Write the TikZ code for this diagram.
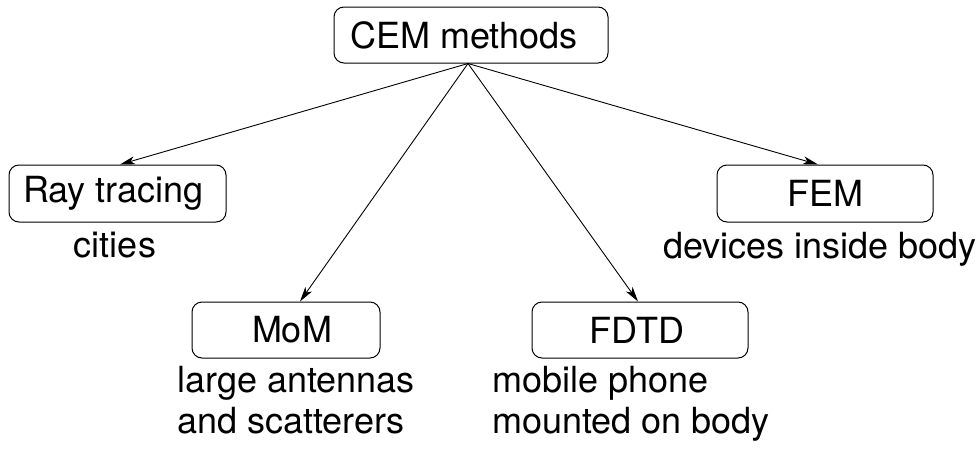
\documentclass[tikz,border=0pt]{standalone}
\usepackage{fontspec}
\setmainfont{TeX Gyre Heros}
\usetikzlibrary{arrows.meta}
\begin{document}
\begin{tikzpicture}[x=1pt,y=-1pt,
  method/.style={draw, line width=1pt, rounded corners=10pt, inner sep=0pt,
    font=\fontsize{36}{41}\selectfont},
  % leading space that moves a label inside its box sideways by half of #1
  nudge/.style={execute at begin node={\hspace*{#1}}},
  note/.style={inner sep=0pt, align=left, font=\fontsize{36}{41}\selectfont},
  link/.style={line width=0.9pt, -{Stealth[length=15pt,width=8pt,inset=4pt]}}]
\useasboundingbox (0,0) rectangle (980,450);
% method boxes
\node[method, minimum width=274pt, minimum height=56pt, nudge=-14pt] (cem) at (471,35) {CEM methods};
\node[method, minimum width=217pt, minimum height=57pt, nudge=-8pt] (ray) at (117.5,193.5) {Ray tracing};
\node[method, minimum width=188pt, minimum height=56pt, nudge=12pt] (mom) at (286,330) {MoM};
\node[method, minimum width=216pt, minimum height=56pt, nudge=-6pt] (fdtd) at (640,330) {FDTD};
\node[method, minimum width=216pt, minimum height=57pt] (fem) at (825,193.5) {FEM};
% application notes
\node[note, anchor=base] (rayn) at (115,257) {cities};
\node[note, anchor=base east] (femn) at (977,258) {devices inside body};
\node[note, anchor=base west] (momn) at (177,433) {large antennas\\and scatterers};
\node[note, anchor=base west] (fdtdn) at (492,433) {mobile phone\\mounted on body};
% connectors
\coordinate (src) at ([xshift=-3pt]cem.south);
\draw[link] (src) -- ([xshift=2.5pt]ray.north);
\draw[link] (src) -- ([xshift=14pt]mom.north);
\draw[link] (src) -- ([xshift=-2pt]fdtd.north);
\draw[link] (src) -- ([xshift=-7pt]fem.north);
\end{tikzpicture}
\end{document}
